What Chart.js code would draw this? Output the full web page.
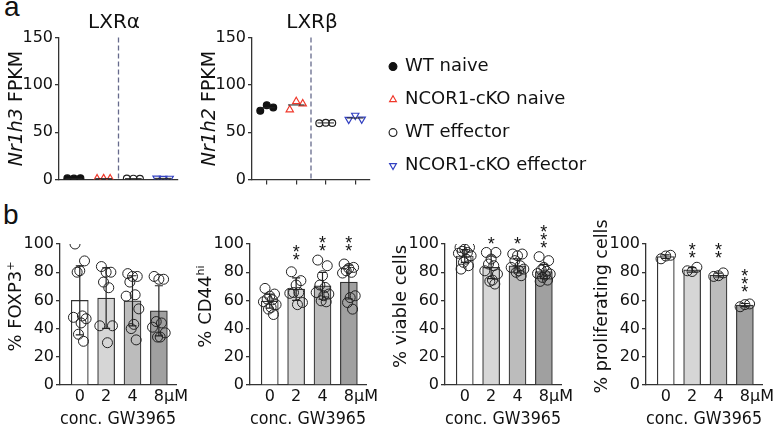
<!DOCTYPE html>
<html>
<head>
<meta charset="utf-8">
<script src="https://cdn.jsdelivr.net/npm/chart.js@4.4.1/dist/chart.umd.min.js"></script>
<style>
  body { margin: 0; width: 776px; height: 426px; background: #fff; position: relative; overflow: hidden; font-family: "Liberation Sans", Arial, sans-serif; }
  .box { position: absolute; }
  .tag { position: absolute; font-size: 28px; line-height: 28px; color: #111; }
</style>
</head>
<body>
<div class="tag" style="left:4px;top:-7px">a</div>
<div class="tag" style="left:3px;top:201px">b</div>

<div class="box" style="left:0;top:0;width:190px;height:200px"><canvas id="a1"></canvas></div>
<div class="box" style="left:190px;top:0;width:586px;height:200px"><canvas id="a2"></canvas></div>

<div class="box" style="left:0;top:200px;width:190px;height:226px"><canvas id="b1"></canvas></div>
<div class="box" style="left:190px;top:200px;width:190px;height:226px"><canvas id="b2"></canvas></div>
<div class="box" style="left:385px;top:200px;width:190px;height:226px"><canvas id="b3"></canvas></div>
<div class="box" style="left:586px;top:200px;width:190px;height:226px"><canvas id="b4"></canvas></div>

<script>
// ---- panel a: FPKM of LXR genes, 3 mice per group
const groupNames = ['WT naive', 'NCOR1-cKO naive', 'WT effector', 'NCOR1-cKO effector'];
const nr1h3 = [[1.2, 1.0, 1.3], [0.8, 1.0, 0.9], [1.0, 0.9, 0.8], [1.3, 1.1, 1.2]];
const nr1h2 = [[72.7, 78.6, 76.2], [73.8, 82.5, 80.1], [59.5, 60.0, 59.8], [63.5, 67.8, 63.8]];
const nr1h3Mean = [1.2, 0.9, 0.9, 1.2];
const nr1h2Mean = [75.8, 78.8, 59.8, 65.0];

// ---- panel b: GW3965 dose response
const doses = ['0', '2', '4', '\u2003\u20028μM'];

const foxp3 = [
  [100, 88, 81, 80, 49, 48, 47, 44, 36, 31],
  [84, 80, 80, 73, 69, 42, 42, 30],
  [79, 77, 77, 73, 64, 63, 54, 43, 40, 32],
  [77, 75, 75, 45, 44, 41, 37, 34, 34]
];
const foxp3Mean = [60, 61.6, 59.7, 52.6];
const foxp3Sd = [24.5, 21.4, 17.8, 17.8];

const cd44 = [
  [68.5, 64.5, 63, 61, 60.4, 59, 57, 55, 53.8, 50],
  [80.3, 74, 70.9, 65.6, 65.6, 65, 58.5, 57],
  [88.6, 84.6, 77.5, 70.9, 69.2, 65.6, 64.5, 63.3, 59.7, 59],
  [85.8, 83.4, 82.7, 81, 79.9, 79.4, 63.3, 62, 58.5, 53.8]
];
const cd44Mean = [59.5, 68, 70.3, 73];
const cd44Sd = [5, 8, 9.5, 12];
const cd44Sig = ['', '**', '**', '**'];
const cd44SigAt = [null, 90.8, 97.2, 97.2];

const viable = [
  [97.6, 97.6, 96.4, 94.8, 94, 93.4, 91.7, 89.3, 87, 84.6, 82.2],
  [94, 94, 89.3, 85.8, 84.6, 81, 78.7, 74.4, 73.5, 71.6],
  [92.9, 92.9, 91.7, 88.2, 84.6, 83.4, 82.2, 81, 79.9, 77.5],
  [91, 88.2, 83.4, 81.5, 80.6, 79.1, 78.7, 78, 76.3, 74.4, 73.5]
];
const viableMean = [91.5, 83.5, 84.5, 80.5];
const viableSd = [4.5, 8, 5, 5];
const viableSig = ['', '*', '*', '***'];
const viableSigAt = [null, 102.8, 102.8, 100];

const prolif = [[89.5, 92, 91.5], [81, 83.5, 80.5], [77, 79.5, 77.5], [55.5, 57.5, 57]];
const prolifMean = [91, 81.7, 78, 56.7];
const prolifSd = [1.3, 1.6, 1.4, 1.1];
const prolifSig = ['', '**', '**', '***'];
const prolifSigAt = [null, 92.9, 92.9, 68.1];

const jitterA = [-0.22, 0, 0.22];
const jitterB = [-0.18, 0.18, 0, -0.1, 0.1, -0.24, 0.24, 0.05, -0.05, 0.14, -0.14];
const barFill = ['#ffffff', '#d6d6d6', '#bcbcbc', '#a0a0a0'];
const groupStyle = [
  { shape: 'circle', rot: 0, r: 3.4, bg: '#111', bc: '#111' },
  { shape: 'triangle', rot: 0, r: 4.2, bg: 'rgba(0,0,0,0)', bc: '#f0382b' },
  { shape: 'circle', rot: 0, r: 3.4, bg: 'rgba(0,0,0,0)', bc: '#222' },
  { shape: 'triangle', rot: 180, r: 4.2, bg: 'rgba(0,0,0,0)', bc: '#3442c2' }
];

const FONT = '"DejaVu Sans", "Liberation Sans", sans-serif';
const STAR_FONT = '18px "Liberation Sans", Arial, sans-serif';
Chart.defaults.font.family = FONT;
Chart.defaults.color = '#111';
Chart.defaults.animation = false;
Chart.defaults.plugins.tooltip.enabled = false;
Chart.defaults.plugins.legend.display = false;

// legend box width: padding + marker + half font + longest label, so the
// chart area of a2 ends where the reference x axis ends
const LEGEND_FONT = 18, LEGEND_PAD = 15, LEGEND_BOX = 6;
const measureCtx = document.createElement('canvas').getContext('2d');
measureCtx.font = LEGEND_FONT + 'px ' + FONT;
const longest = Math.max(...groupNames.map(n => measureCtx.measureText(n).width));
const legendWidth = Math.ceil(LEGEND_PAD + LEGEND_BOX + LEGEND_FONT / 2 + longest) + 4;

// extra drawing per canvas: divider, mean lines, sd bars, stars, titles
const decorCfg = new Map();
const decor = {
  id: 'decor',
  afterDatasetsDraw(chart) {
    const o = decorCfg.get(chart.canvas.id);
    if (!o) return;
    const { ctx, chartArea: ca, scales: { x, y } } = chart;
    ctx.save();
    if (o.divider !== undefined) {
      ctx.strokeStyle = '#666a8c';
      ctx.lineWidth = 1.3;
      ctx.setLineDash([5, 3]);
      const px = x.getPixelForValue(o.divider);
      ctx.beginPath(); ctx.moveTo(px, ca.top); ctx.lineTo(px, ca.bottom); ctx.stroke();
      ctx.setLineDash([]);
    }
    if (o.means) {
      ctx.strokeStyle = '#222';
      ctx.lineWidth = 1;
      o.means.forEach((m, i) => {
        const py = y.getPixelForValue(m);
        ctx.beginPath();
        ctx.moveTo(x.getPixelForValue(i - 0.28), py);
        ctx.lineTo(x.getPixelForValue(i + 0.28), py);
        ctx.stroke();
      });
    }
    if (o.sd) {
      ctx.strokeStyle = '#222';
      ctx.lineWidth = 1.2;
      o.sd.forEach((s, i) => {
        const px = x.getPixelForValue(i);
        const lo = y.getPixelForValue(o.mean[i] - s);
        const hi = y.getPixelForValue(o.mean[i] + s);
        ctx.beginPath();
        ctx.moveTo(px, lo); ctx.lineTo(px, hi);
        ctx.moveTo(px - 4, hi); ctx.lineTo(px + 4, hi);
        ctx.moveTo(px - 4, lo); ctx.lineTo(px + 4, lo);
        ctx.stroke();
      });
    }
    if (o.sig) {
      ctx.font = STAR_FONT;
      ctx.fillStyle = '#111';
      ctx.textAlign = 'center';
      ctx.textBaseline = 'alphabetic';
      const m = ctx.measureText('*');
      const shift = (m.actualBoundingBoxAscent - m.actualBoundingBoxDescent) / 2;
      o.sig.forEach((s, i) => {
        if (!s) return;
        const px = x.getPixelForValue(i);
        const base = y.getPixelForValue(o.sigAt[i]);
        for (let k = 0; k < s.length; k++) ctx.fillText('*', px, base - k * 8 + shift);
      });
    }
    ctx.restore();
  },
  afterDraw(chart) {
    const o = decorCfg.get(chart.canvas.id);
    if (!o) return;
    const { ctx, chartArea: ca } = chart;
    ctx.save();
    ctx.fillStyle = '#111';
    if (o.title) {
      ctx.font = '20px ' + FONT;
      ctx.textAlign = 'center';
      ctx.textBaseline = 'alphabetic';
      ctx.fillText(o.title, (ca.left + ca.right) / 2 + (o.titleDx || 0), o.titleY);
    }
    if (o.yTitle) {
      const size = o.yTitleSize;
      const fontOf = seg => (seg.i ? 'italic ' : '') + (seg.sup ? size * 0.62 : size) + 'px ' + FONT;
      let total = 0;
      o.yTitle.forEach(seg => { ctx.font = fontOf(seg); total += ctx.measureText(seg.t).width; });
      ctx.translate(ca.left - o.yTitleGap, (ca.top + ca.bottom) / 2 + (o.yTitleDy || 0));
      ctx.rotate(-Math.PI / 2);
      ctx.textAlign = 'left';
      ctx.textBaseline = 'alphabetic';
      const base = size * 0.36;
      let cx = -total / 2;
      o.yTitle.forEach(seg => {
        ctx.font = fontOf(seg);
        ctx.fillText(seg.t, cx, seg.sup ? base - size * 0.42 : base);
        cx += ctx.measureText(seg.t).width;
      });
    }
    ctx.restore();
  }
};
Chart.register(decor);

function dotSets(values) {
  return values.map((vals, g) => ({
    type: 'scatter',
    label: groupNames[g],
    data: vals.map((v, k) => ({ x: g + jitterA[k], y: v })),
    pointStyle: groupStyle[g].shape,
    pointRotation: groupStyle[g].rot,
    pointRadius: groupStyle[g].r,
    backgroundColor: groupStyle[g].bg,
    borderColor: groupStyle[g].bc,
    borderWidth: 1.2
  }));
}

function fpkmChart(id, values, means, opts) {
  decorCfg.set(id, {
    divider: 1.5, means, title: opts.title, titleDx: opts.titleDx, titleY: 28,
    yTitle: opts.yTitle, yTitleSize: 19, yTitleGap: 44
  });
  const scales = {
    x: {
      type: 'linear', min: -0.5, max: 3.5, offset: false,
      afterBuildTicks: s => { s.ticks = groupNames.map((n, i) => ({ value: i })); },
      ticks: { display: false },
      grid: { display: opts.xTicks, drawOnChartArea: false, tickLength: 5, color: '#333', lineWidth: 1.2 },
      border: { color: '#333', width: 1.3 },
      afterFit: s => { s.height = 20.5; }
    },
    y: {
      min: 0, max: 150,
      ticks: { stepSize: 50, font: { size: 16 }, padding: 2, color: '#111' },
      grid: { drawOnChartArea: false, tickLength: 4, color: '#333', lineWidth: 1.3 },
      border: { color: '#333', width: 1.3 },
      afterFit: s => { s.width = opts.yWidth; }
    }
  };
  if (opts.legend) {
    scales.gap = {
      type: 'linear', position: 'right', display: true,
      grid: { display: false }, border: { display: false }, ticks: { display: false },
      afterFit: s => { s.width = 5; }
    };
  }
  new Chart(document.getElementById(id), {
    type: 'scatter',
    data: { datasets: dotSets(values) },
    options: {
      responsive: true,
      maintainAspectRatio: false,
      layout: { padding: { top: 37.6, right: opts.padRight, bottom: 0, left: 0 } },
      scales,
      plugins: {
        legend: {
          display: !!opts.legend,
          position: 'right',
          align: 'start',
          maxWidth: legendWidth,
          title: { display: true, text: '', padding: { top: 4, bottom: 0 }, font: { size: 1, lineHeight: 1 } },
          labels: { usePointStyle: true, boxHeight: 5.5, boxWidth: LEGEND_BOX, padding: LEGEND_PAD, font: { size: LEGEND_FONT }, color: '#111' }
        }
      }
    }
  });
}

fpkmChart('a1', nr1h3, nr1h3Mean, {
  title: 'LXRα', titleDx: -4.5, yWidth: 59, padRight: 12, xTicks: false,
  yTitle: [{ t: 'Nr1h3', i: true }, { t: ' FPKM' }]
});
fpkmChart('a2', nr1h2, nr1h2Mean, {
  title: 'LXRβ', titleDx: 1, yWidth: 62, padRight: 586 - 180 - 5 - legendWidth, xTicks: true, legend: true,
  yTitle: [{ t: 'Nr1h2', i: true }, { t: ' FPKM' }]
});

function doseChart(id, pts, mean, sd, sig, sigAt, yTitle, titleSize) {
  decorCfg.set(id, { mean, sd, sig, sigAt, yTitle, yTitleSize: titleSize, yTitleGap: 45, yTitleDy: -8 });
  new Chart(document.getElementById(id), {
    type: 'bar',
    data: {
      datasets: [
        {
          data: mean.map((m, i) => ({ x: i, y: m })),
          backgroundColor: barFill,
          borderColor: '#333',
          borderWidth: 1.2,
          barThickness: 17,
          order: 2
        },
        {
          type: 'scatter',
          data: pts.flatMap((vals, i) => vals.map((v, k) => ({ x: i + jitterB[k % jitterB.length], y: v }))),
          pointRadius: 5,
          borderColor: '#222',
          borderWidth: 1,
          backgroundColor: 'rgba(0,0,0,0)',
          order: 1
        }
      ]
    },
    options: {
      responsive: true,
      maintainAspectRatio: false,
      layout: { padding: { top: 44, right: 14, bottom: 0, left: 0 } },
      scales: {
        x: {
          type: 'linear', min: -0.75, max: 3.65, offset: false,
          afterBuildTicks: s => { s.ticks = doses.map((d, i) => ({ value: i })); },
          ticks: { callback: v => doses[v], font: { size: 16 }, padding: -6, autoSkip: false, maxRotation: 0, color: '#111' },
          grid: { display: false },
          border: { color: '#333', width: 1.3 },
          title: { display: true, text: 'conc. GW3965', font: { size: 18, lineHeight: 0.75 }, padding: 0, color: '#111' },
          afterFit: s => { s.height = 41; }
        },
        y: {
          min: 0, max: 100,
          ticks: { stepSize: 20, font: { size: 16 }, padding: 2, color: '#111' },
          grid: { drawOnChartArea: false, tickLength: 4, color: '#333', lineWidth: 1.3 },
          border: { color: '#333', width: 1.3 },
          afterFit: s => { s.width = 60; }
        }
      }
    }
  });
}

doseChart('b1', foxp3, foxp3Mean, foxp3Sd, null, null, [{ t: '% FOXP3' }, { t: '+', sup: true }], 18);
doseChart('b2', cd44, cd44Mean, cd44Sd, cd44Sig, cd44SigAt, [{ t: '% CD44' }, { t: 'hi', sup: true }], 18);
doseChart('b3', viable, viableMean, viableSd, viableSig, viableSigAt, [{ t: '% viable cells' }], 18);
doseChart('b4', prolif, prolifMean, prolifSd, prolifSig, prolifSigAt, [{ t: '% proliferating cells' }], 17.5);
</script>
</body>
</html>
